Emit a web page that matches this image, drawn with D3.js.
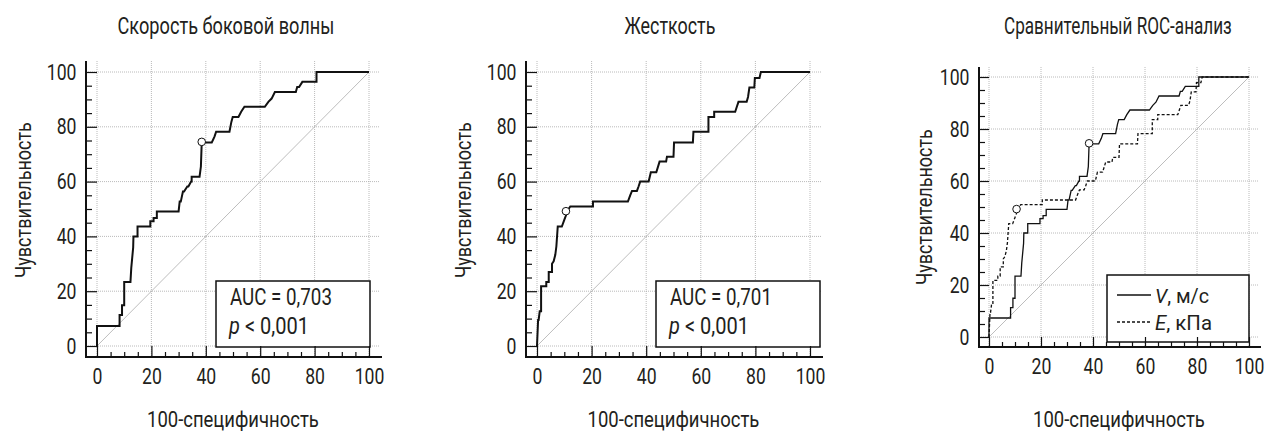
<!DOCTYPE html>
<html lang="ru">
<head>
<meta charset="UTF-8">
<title>ROC</title>
<script src="https://cdn.jsdelivr.net/npm/d3@7"></script>
<style>
  body { margin: 0; background: #fff; }
  svg text { font-family: Roboto, 'Liberation Sans Narrow', 'Noto Sans', sans-serif; fill: #231f20; }
</style>
</head>
<body>
<svg id="chart" width="1266" height="431"></svg>
<script>
// ROC-кривые: [100-специфичность, чувствительность]
const vRoc = [[0,0],[0,7.3],[8.3,7.3],[8.3,11.3],[9.2,11.3],[9.2,14.9],[10,14.9],[10,23.4],[12.3,23.4],[12.6,28.5],
  [13.3,36],[13.4,40],[14.9,40],[14.9,43.6],[19.6,43.6],[19.6,45.5],[20.8,45.5],[20.8,46.7],[22,46.7],[22,49.1],
  [30,49.1],[30.4,52.7],[30.8,52.7],[31.6,56.4],[32,56.4],[33.2,58.2],[33.6,58.2],[34.6,60],[34.8,60],[34.8,61.8],
  [37.7,61.8],[38.2,65.5],[38.5,74.3],[42.2,74.3],[43.2,76.4],[43.8,78.2],[48.7,78.2],[49.4,81.8],[49.9,83.6],[52,83.6],
  [53,85.5],[54.2,87.3],[61.7,87.3],[63,89.1],[64.2,90.3],[65.4,92.7],[73.1,92.7],[73.6,94.5],[74.3,94.5],[75.5,96.4],
  [80.7,96.4],[80.7,100],[100,100]];
const eRoc = [[0,0],[0.4,9.5],[0.6,9.5],[1,12.7],[1.5,12.7],[1.5,21.8],[3.4,21.8],[3.4,23.4],[4.3,23.4],[4.3,27],
  [5.5,27],[5.5,30],[6.1,30.9],[6.7,33.3],[7.1,36.4],[7.6,43.6],[9.1,43.6],[10,46],[10.7,47.9],[11.2,49.5],
  [12.2,50.9],[20.5,50.9],[20.5,52.7],[33.3,52.7],[34.1,54.9],[34.8,56.6],[36.6,56.6],[37.2,58.2],[37.8,60],[40.9,60],
  [41.7,63.4],[43.7,63.4],[44.9,67.3],[47.3,67.3],[47.6,69.1],[50,69.1],[50.2,74.3],[57.1,74.3],[57.3,78.2],[62.8,78.2],
  [62.8,83.6],[64.9,83.6],[64.9,85.5],[72.6,85.5],[73.2,87.3],[73.8,89.1],[76.8,89.1],[77.3,90.9],[77.8,94.3],[79.6,94.3],
  [79.8,97.8],[81.5,97.8],[82,100],[100,100]];
// точки отсечения
const vCut = [38.5, 74.5];
const eCut = [10.6, 49.2];
const diagonal = [[0,0],[100,100]];

const tickValues = d3.range(0, 101, 5);
const tickLabels = [0, 20, 40, 60, 80, 100];
const titles = ["Скорость боковой волны", "Жесткость", "Сравнительный ROC-анализ"];
const xTitle = "100-специфичность";
const yTitle = "Чувствительность";
const aucText = ["AUC = 0,703", "AUC = 0,701"];
const pText = "< 0,001";
const legendNames = [["V", ", м/с"], ["E", ", кПа"]];

const svg = d3.select("#chart");

// узкий шрифт: сжимаем текст по горизонтали до ширины из оригинала
function squeeze(t, x, y, w, rot) {
  const len = t.node().getComputedTextLength();
  t.attr("transform", `translate(${x},${y})${rot ? " rotate(-90)" : ""} scale(${w / len},1)`);
  return t;
}

const panels = [
  { x: [97, 369], y: [346, 72], pad: 11, ext: 11, titleX: 226, titleW: 217, yLabX: 23, width: 2,
    curves: [{ data: vRoc, dash: null, cut: vCut }], box: [216, 281, 370, 347] },
  { x: [537, 810], y: [346, 72], pad: 11, ext: 11, titleX: 670, titleW: 91, yLabX: 463, width: 2,
    curves: [{ data: eRoc, dash: null, cut: eCut }], box: [656, 281, 820, 347] },
  { x: [989, 1249], y: [337, 77], pad: 10, ext: 10, titleX: 1118, titleW: 228, yLabX: 924, width: 1.3,
    curves: [{ data: vRoc, dash: null, cut: vCut }, { data: eRoc, dash: "3,2", cut: eCut }], box: [1107, 275, 1249, 342] }
];

panels.forEach(function(p, i) {
  const x = d3.scaleLinear().domain([0, 100]).range(p.x);
  const y = d3.scaleLinear().domain([0, 100]).range(p.y);
  const ax = p.x[0] - p.pad;      // левая ось
  const ay = p.y[0] + p.pad;      // нижняя ось
  const right = p.x[1] + p.ext;
  const top = p.y[1] - p.ext;
  const g = svg.append("g");

  // сетка
  tickLabels.forEach(function(v) {
    g.append("line").attr("x1", ax).attr("x2", right).attr("y1", y(v)).attr("y2", y(v))
      .attr("stroke", "#a8a8a8").attr("stroke-width", 0.8).attr("stroke-dasharray", "1,1");
    g.append("line").attr("x1", x(v)).attr("x2", x(v)).attr("y1", top).attr("y2", ay)
      .attr("stroke", "#a8a8a8").attr("stroke-width", 0.8).attr("stroke-dasharray", "1,1");
  });

  // диагональ
  const line = d3.line().x(d => x(d[0])).y(d => y(d[1]));
  g.append("path").attr("d", line(diagonal)).attr("fill", "none")
    .attr("stroke", "#b5b5b5").attr("stroke-width", 0.9);

  // кривые
  p.curves.forEach(function(c) {
    g.append("path").attr("d", line(c.data)).attr("fill", "none")
      .attr("stroke", "#111").attr("stroke-width", p.width)
      .attr("stroke-dasharray", c.dash);
  });
  p.curves.forEach(function(c) {
    g.append("circle").attr("cx", x(c.cut[0])).attr("cy", y(c.cut[1])).attr("r", 3.8)
      .attr("fill", "#fff").attr("stroke", "#111").attr("stroke-width", 1);
  });

  // рамка подписи
  const b = p.box;
  g.append("rect").attr("x", b[0]).attr("y", b[1]).attr("width", b[2] - b[0]).attr("height", b[3] - b[1])
    .attr("fill", "#fff").attr("stroke", "#111").attr("stroke-width", 1.5);
  if (i < 2) {
    squeeze(g.append("text").attr("font-size", 24).text(aucText[i]), b[0] + 14, b[1] + 24, 102);
    const t = g.append("text").attr("font-size", 24);
    t.append("tspan").attr("font-style", "italic").text("p");
    t.append("tspan").text(" " + pText);
    squeeze(t, b[0] + 13, b[1] + 53, 80);
  } else {
    legendNames.forEach(function(n, k) {
      const ly = b[1] + 20 + k * 27;
      g.append("line").attr("x1", b[0] + 10).attr("x2", b[0] + 44).attr("y1", ly).attr("y2", ly)
        .attr("stroke", "#111").attr("stroke-width", 1.3).attr("stroke-dasharray", k ? "3,2" : null);
      const t = g.append("text").attr("font-size", 20);
      t.append("tspan").attr("font-style", "italic").text(n[0]);
      t.append("tspan").text(n[1]);
      squeeze(t, b[0] + 48, ly + 8, k ? 57 : 54);
    });
  }

  // оси
  const yAxis = g.append("g").attr("transform", `translate(${ax},0)`)
    .call(d3.axisLeft(y).tickValues(tickValues).tickSize(-6).tickPadding(12)
      .tickFormat(d => d % 20 === 0 ? d : ""));
  const xAxis = g.append("g").attr("transform", `translate(0,${ay})`)
    .call(d3.axisBottom(x).tickValues(tickValues).tickSize(-5).tickPadding(11)
      .tickFormat(d => d % 20 === 0 ? d : ""));
  [yAxis, xAxis].forEach(function(a) {
    a.select(".domain").remove();
    a.selectAll(".tick line").attr("stroke", "#111").attr("stroke-width", 1.2);
    a.selectAll(".tick text").attr("font-size", 22).attr("font-family", null)
      .attr("transform", "scale(0.8,1)");
  });
  yAxis.selectAll(".tick line").filter(d => d % 20 === 0).attr("x2", p.pad);
  xAxis.selectAll(".tick line").filter(d => d % 20 === 0).attr("y2", -p.pad);
  g.append("line").attr("x1", ax).attr("x2", ax).attr("y1", top).attr("y2", ay + 1)
    .attr("stroke", "#111").attr("stroke-width", 2);
  g.append("line").attr("x1", ax - 1).attr("x2", right + 2).attr("y1", ay).attr("y2", ay)
    .attr("stroke", "#111").attr("stroke-width", 2);

  // подписи
  squeeze(g.append("text").attr("font-size", 24).text(titles[i]),
    p.titleX - p.titleW / 2, 34, p.titleW);
  squeeze(g.append("text").attr("font-size", 22).text(xTitle),
    (p.x[0] + p.x[1]) / 2 - 86, 427, 172);
  const cy = (p.y[0] + p.y[1]) / 2 + (i === 2 ? 0 : -9);
  squeeze(g.append("text").attr("dominant-baseline", "central").attr("font-size", 22).text(yTitle),
    p.yLabX, cy + 78, 156, true);
});
</script>
</body>
</html>
